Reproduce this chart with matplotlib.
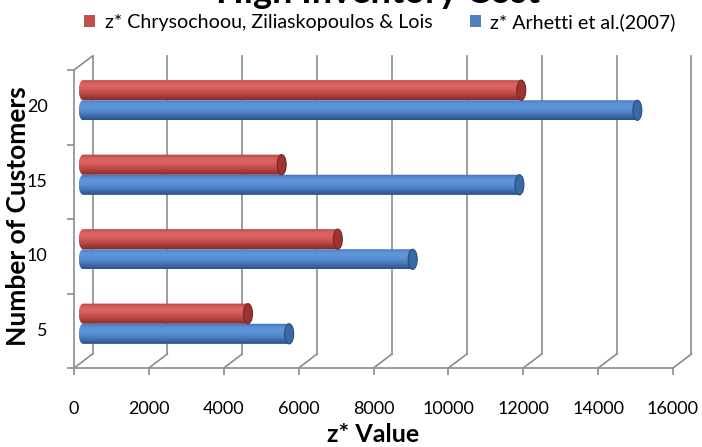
import numpy as np
import matplotlib
matplotlib.use('Agg')
import matplotlib.pyplot as plt
from matplotlib.patches import Ellipse, Polygon, Patch
from matplotlib.colors import to_rgb

# ---------------- data ----------------
categories = ['5', '10', '15', '20']
series_names = ['z* Chrysochoou, Ziliaskopoulos & Lois', 'z* Arhetti et al.(2007)']
red_values = [4400, 6800, 5300, 11700]
blue_values = [5500, 8800, 11650, 14800]
x_ticks = [0, 2000, 4000, 6000, 8000, 10000, 12000, 14000, 16000]
title = 'High Inventory Cost'
x_label = 'z* Value'
y_label = 'Number of Customers'

plt.rcParams['font.family'] = ['Lato', 'DejaVu Sans']

W, H = 702, 447
fig = plt.figure(figsize=(W / 100, H / 100), dpi=100)
L, R, T, B = 74, 673, 70, 368
ax = fig.add_axes([L / W, 1 - B / H, (R - L) / W, (B - T) / H])
XMAX = x_ticks[-1]
NC = len(categories)
ax.set_xlim(0, XMAX)
ax.set_ylim(0, NC)

px_x = XMAX / (R - L)      # data units per pixel (x)
px_y = NC / (B - T)        # data units per pixel (y)
dx, dy = 18.5 * px_x, 14 * px_y   # depth offset of back wall

gray = '#8c8c8c'
# back wall gridlines
for xv in x_ticks:
    ax.plot([xv + dx, xv + dx], [dy, NC + dy], color=gray, lw=1.2, clip_on=False, zorder=1)
    ax.plot([xv, xv + dx], [0, dy], color=gray, lw=1.2, clip_on=False, zorder=1)
ax.plot([0, dx], [NC, NC + dy], color=gray, lw=1.2, clip_on=False, zorder=1)

# cylinders
h = 0.27
a = 4.5 * px_x
styles = {
    'red': dict(grad=['#b8423f', '#d65f5c', '#da6663', '#d35a57', '#c04c49', '#a53b39', '#8a2c2a'],
                cap='#9b3532', capedge='#782523'),
    'blue': dict(grad=['#3e72b4', '#5a8fd3', '#5f95da', '#5890d6', '#4b7fc3', '#3d6aa6', '#2b5183'],
                 cap='#3a69a6', capedge='#294d7e'),
}


def gradient_img(cols, n=40):
    rgb = np.array([to_rgb(c) for c in cols])
    t = np.linspace(0, 1, len(cols))
    tt = np.linspace(0, 1, n)
    img = np.stack([np.interp(tt, t, rgb[:, k]) for k in range(3)], axis=-1)
    return img[:, None, :]


def cylinder(v, yc, st):
    x0 = dx / 2
    th = np.linspace(np.pi / 2, 3 * np.pi / 2, 40)
    pts = [(x0 + a * np.cos(t), yc + (h / 2) * np.sin(t)) for t in th]
    pts += [(x0 + v, yc - h / 2), (x0 + v, yc + h / 2)]
    poly = Polygon(pts, closed=True, facecolor='none', edgecolor='none', transform=ax.transData)
    ax.add_patch(poly)
    im = ax.imshow(gradient_img(st['grad']), extent=(x0 - a, x0 + v, yc - h / 2, yc + h / 2),
                   aspect='auto', origin='upper', interpolation='bilinear', zorder=3)
    im.set_clip_path(poly)
    cap = Ellipse((x0 + v, yc), 2 * a, h, facecolor=st['cap'], edgecolor=st['capedge'], lw=0.8, zorder=4)
    ax.add_patch(cap)


for i in range(NC):
    c = i + 0.5 + dy / 2
    cylinder(red_values[i], c + h / 2, styles['red'])
    cylinder(blue_values[i], c - h / 2, styles['blue'])

ax.set_xlim(0, XMAX)
ax.set_ylim(0, NC)
ax.patch.set_visible(False)

for s in ['top', 'right']:
    ax.spines[s].set_visible(False)
for s in ['left', 'bottom']:
    ax.spines[s].set_color(gray)
    ax.spines[s].set_linewidth(1.2)
    ax.spines[s].set_zorder(2)

TICK_FS = 13
ax.set_xticks(x_ticks)
ax.set_xticklabels([str(v) for v in x_ticks], fontsize=TICK_FS)
ax.tick_params(axis='x', direction='out', length=5, width=1.2, color=gray, pad=19)
ax.set_yticks(range(NC + 1))
ax.set_yticklabels([])
ax.set_yticks([i + 0.5 for i in range(NC)], minor=True)
ax.set_yticklabels(categories, minor=True, fontsize=TICK_FS)
ax.tick_params(axis='y', which='major', direction='out', length=5, width=1.2, color=gray)
ax.tick_params(axis='y', which='minor', length=0, pad=19)
for lab in ax.get_yticklabels(minor=True):
    lab.set_va('center')

fig.text(373 / W, 1 - 434 / H, x_label, ha='center', va='center', fontsize=18, fontweight='bold')
fig.text(18 / W, 1 - 216 / H, y_label, ha='center', va='center', rotation=90, fontsize=19, fontweight='bold')
fig.text(378 / W, 1 - 3 / H, title, ha='center', va='baseline', fontsize=26, fontweight='bold')

handles = [Patch(facecolor='#c0504d', edgecolor='none'), Patch(facecolor='#4f81bd', edgecolor='none')]
fig.legend(handles, series_names, loc='center', bbox_to_anchor=(380 / W, 1 - 22 / H), ncol=2,
           frameon=False, fontsize=14.1, handlelength=0.55, handleheight=0.55, handletextpad=0.5,
           columnspacing=1.9, borderpad=0, borderaxespad=0)

fig.savefig('out.png', dpi=100)
